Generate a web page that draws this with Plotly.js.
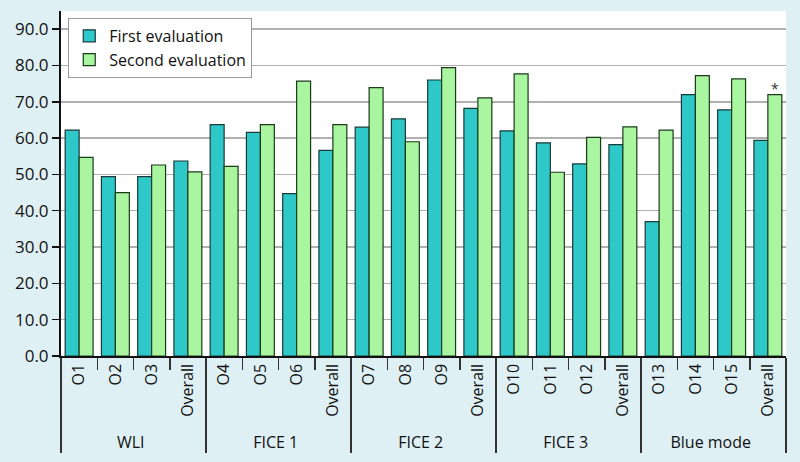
<!DOCTYPE html>
<html><head><meta charset="utf-8">
<script src="https://cdn.plot.ly/plotly-3.0.1.min.js"></script>
<style>html,body{margin:0;padding:0;background:#dff0f5;}</style>
</head><body><div id="chart" style="width:800px;height:462px;"></div>
<script>
const groups = ["WLI","WLI","WLI","WLI","FICE 1","FICE 1","FICE 1","FICE 1","FICE 2","FICE 2","FICE 2","FICE 2","FICE 3","FICE 3","FICE 3","FICE 3","Blue mode","Blue mode","Blue mode","Blue mode"];
const labels = ["O1","O2","O3","Overall","O4","O5","O6","Overall","O7","O8","O9","Overall","O10","O11","O12","Overall","O13","O14","O15","Overall"];
const firstEval = [62.2,49.4,49.4,53.7,63.7,61.6,44.7,56.6,63.0,65.3,76.0,68.2,62.0,58.7,52.9,58.2,37.0,72.0,67.8,59.4];
const secondEval = [54.7,45.0,52.6,50.7,52.2,63.7,75.7,63.7,73.9,59.0,79.4,71.1,77.7,50.6,60.2,63.1,62.2,77.2,76.3,72.0];
const yTicks = [0,10,20,30,40,50,60,70,80,90];

// make repeated inner labels unique (zero-width spaces) so the category order is kept
const seen = {};
const innerLabels = labels.map(l => { seen[l] = (seen[l] || 0) + 1; return l + "\u200b".repeat(seen[l] - 1); });

const font = "Open Sans, Noto Sans, sans-serif";
const data = [
  {type:"bar", name:"First evaluation", x:[groups,innerLabels], y:firstEval,
   marker:{color:"#2ec8c8", line:{color:"#1a3a3a", width:1.2}}},
  {type:"bar", name:"Second evaluation", x:[groups,innerLabels], y:secondEval,
   marker:{color:"#aaf5a0", line:{color:"#1a3a1a", width:1.2}}}
];
const layout = {
  width:800, height:462,
  paper_bgcolor:"#dff0f5", plot_bgcolor:"#ffffff",
  margin:{l:61, r:14, t:11, b:106},
  barmode:"group", bargap:0.23, bargroupgap:0,
  font:{family:font, size:16, color:"#111"},
  showlegend:true,
  legend:{x:0.01, y:0.98, xanchor:"left", yanchor:"top", bgcolor:"#ffffff",
    bordercolor:"#999", borderwidth:1, font:{size:16, family:font}, traceorder:"normal"},
  xaxis:{type:"multicategory", tickangle:-90, showdividers:true, dividercolor:"#333", dividerwidth:1.5,
    ticks:"outside", ticklen:12, tickcolor:"#333", tickwidth:1.5,
    showline:true, linecolor:"#111", linewidth:1.5, tickfont:{size:16, family:font},
    showgrid:false},
  yaxis:{range:[0,95], tickvals:yTicks, tickformat:".1f", ticks:"outside", ticklen:7,
    tickcolor:"#111", tickwidth:1.5, showline:true, linecolor:"#111", linewidth:2,
    gridcolor:"#b0b0b0", gridwidth:1.5, zeroline:false, tickfont:{size:17, family:font}},
  annotations:[{x:19.19, y:secondEval[19], xref:"x", yref:"y", text:"*", showarrow:false,
    yanchor:"bottom", yshift:-5, font:{size:14, color:"#333"}}]
};
Plotly.newPlot("chart", data, layout, {displayModeBar:false, staticPlot:true});
</script></body></html>
